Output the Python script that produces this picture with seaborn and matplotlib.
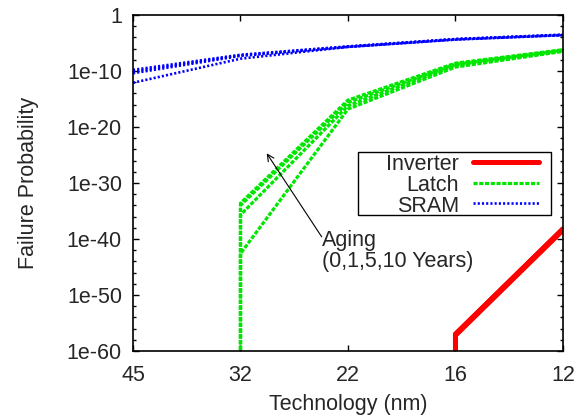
import matplotlib
matplotlib.use("Agg")
import matplotlib.pyplot as plt
from matplotlib.lines import Line2D
from matplotlib.patches import Rectangle
from matplotlib.ticker import FixedLocator, NullFormatter
import numpy as np
import pandas as pd
import seaborn as sns

tech_labels = ["45", "32", "22", "16", "12"]
aging_years = [0, 1, 5, 10]

# log10 of failure probability, one row per aging year
# (-80 stands for "below the plotted range")
sram_tech = ["45", "32", "22", "16", "12"]
sram_exp = [
    [-12.1, -7.8, -5.7, -4.4, -3.6],
    [-10.4, -7.3, -5.7, -4.35, -3.6],
    [-10.1, -7.2, -5.65, -4.3, -3.55],
    [-9.8, -7.1, -5.6, -4.3, -3.5],
]
latch_tech = ["32", "32", "22", "16", "12"]
latch_exp = [
    [-80, -42.6, -16.8, -9.3, -6.5],
    [-80, -35.7, -16.2, -9.0, -6.4],
    [-80, -34.0, -15.6, -8.8, -6.3],
    [-80, -33.6, -15.2, -8.6, -6.2],
]
inverter_tech = ["16", "16", "12"]
inverter_exp = [
    [-80, -57.2, -38.4],
    [-80, -57.1, -38.3],
    [-80, -57.0, -38.2],
    [-80, -57.0, -38.2],
]

devices = ["Inverter", "Latch", "SRAM"]
colors = {"Inverter": "#ff0000", "Latch": "#00e600", "SRAM": "#0000ff"}
widths = {"Inverter": 3.6, "Latch": 2.3, "SRAM": 1.9}
styles = {"Inverter": "-", "Latch": (0, (1.3, 0.5)), "SRAM": (0, (0.8, 0.8))}

rows = []
for dev, techs, exps in [("Inverter", inverter_tech, inverter_exp),
                         ("Latch", latch_tech, latch_exp),
                         ("SRAM", sram_tech, sram_exp)]:
    for age, e in zip(aging_years, exps):
        for i, (t, v) in enumerate(zip(techs, e)):
            rows.append(dict(device=dev, age=age, order=i,
                             pos=tech_labels.index(t), prob=10.0 ** v))
df = pd.DataFrame(rows)

sns.set_style("ticks")
plt.rcParams["font.family"] = ["Liberation Sans", "DejaVu Sans"]
fs = 15.5
plt.rcParams["font.size"] = fs

fig, ax = plt.subplots(figsize=(5.77, 4.18), dpi=100)
fig.subplots_adjust(left=0.2305, right=0.9757, top=0.9641, bottom=0.1603)

for dev in ["SRAM", "Latch", "Inverter"]:
    sub = df[df.device == dev]
    sns.lineplot(data=sub, x="pos", y="prob", units="age", estimator=None,
                 sort=False, color=colors[dev], lw=widths[dev],
                 linestyle=styles[dev], legend=False, ax=ax)

ax.set_yscale("log")
ax.set_xlim(0, len(tech_labels) - 1)
ax.set_ylim(1e-60, 1)

ax.set_xticks(range(len(tech_labels)))
ax.set_xticklabels(tech_labels)
major = [10.0 ** -k for k in range(0, 61, 10)]
ax.yaxis.set_major_locator(FixedLocator(major))
ax.set_yticklabels(["1"] + ["1e-%d" % k for k in range(10, 61, 10)])
ax.yaxis.set_minor_locator(FixedLocator([10.0 ** -k for k in range(0, 61, 2) if k % 10]))
ax.yaxis.set_minor_formatter(NullFormatter())

ax.tick_params(which="both", direction="in", top=True, right=True, width=1.0, color="black")
ax.tick_params(which="major", length=4.5)
ax.tick_params(which="minor", length=2.5)
ax.tick_params(axis="x", pad=10, labelsize=fs)
ax.tick_params(axis="y", pad=8, labelsize=fs)
for s in ax.spines.values():
    s.set_linewidth(1.2)
    s.set_color("black")

ax.set_xlabel("Technology (nm)", fontsize=fs, labelpad=6)
ax.set_ylabel("Failure Probability", fontsize=fs, labelpad=20)

# aging annotation
ax.annotate("", xy=(1.244, 10 ** -24.7), xytext=(1.755, 10 ** -39.6),
            arrowprops=dict(arrowstyle="->", color="black", lw=0.8,
                            mutation_scale=12, shrinkA=0, shrinkB=0))
ax.text(1.758, 10 ** -42.1, "Aging\n(0,1,5,10 Years)", ha="left", va="center",
        fontsize=fs, linespacing=1.0)

# gnuplot-style key
ax.add_patch(Rectangle((0.523, 0.405), 0.449, 0.187, transform=ax.transAxes,
                       facecolor="white", edgecolor="black", lw=1.0, zorder=5))
key_y = [0.5634, 0.5009, 0.4396]
for dev, y in zip(devices, key_y):
    ax.text(0.758, y - 0.009, dev, transform=ax.transAxes, ha="right", va="center",
            fontsize=fs, zorder=6)
    ax.add_line(Line2D([0.791, 0.944], [y, y], transform=ax.transAxes,
                       color=colors[dev], lw=widths[dev], linestyle=styles[dev],
                       zorder=6))

fig.savefig("out.png", dpi=100)
